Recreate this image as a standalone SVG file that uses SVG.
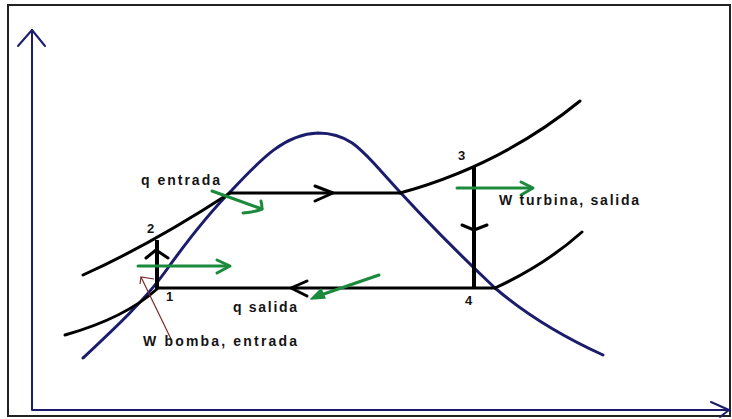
<svg xmlns="http://www.w3.org/2000/svg" width="732" height="419" viewBox="0 0 732 419">
<style>
.lbl{font-family:"Liberation Sans",Arial,sans-serif;font-weight:bold;font-size:14px;fill:#141414}
.num{font-family:"Liberation Sans",Arial,sans-serif;font-weight:bold;font-size:13px;fill:#141414}
.blk{fill:none;stroke:#000;stroke-width:3;stroke-linecap:round;stroke-linejoin:round}
.vert{fill:none;stroke:#000;stroke-width:4}
.navy{fill:none;stroke:#1b1c6c;stroke-width:3;stroke-linecap:round;stroke-linejoin:round}
.axis{fill:none;stroke:#1b1c6c;stroke-width:2;stroke-linecap:round;stroke-linejoin:round}
.grn{fill:none;stroke:#1c8a3c;stroke-width:3;stroke-linecap:round;stroke-linejoin:round}
</style>
<rect width="732" height="419" fill="#fff"/>
<rect x="8" y="5" width="722" height="411" fill="none" stroke="#222" stroke-width="2"/>
<g id="axes">
<polyline class="axis" points="32,30 32,410 729,410"/>
<polyline class="axis" points="18,46 32,30 45,46"/>
<polyline class="axis" points="711,402 729,410 720,417"/>
</g>
<g id="dome">
<path class="navy" d="M83,358 C115,328 145,300 165,272 C185,244 210,212 232,190 C262,158 285,134 318,133 C347,133 360,148 380,170 C420,215 460,255 495,288 C530,318 570,340 603,355"/>
</g>
<g id="connectors">
<path class="blk" d="M83,275 Q150,245 230,193"/>
<path class="blk" d="M65,335 Q125,318 157,289"/>
<path class="blk" d="M400,193 C440,182 510,158 580,101"/>
<path class="blk" d="M495,288 Q545,265 582,232"/>
<line class="blk" x1="230" y1="193" x2="400" y2="193"/>
<line class="blk" x1="157" y1="288" x2="495" y2="288"/>
<line class="vert" x1="157" y1="240" x2="157" y2="289"/>
<line class="vert" x1="474" y1="166" x2="474" y2="289"/>
<polyline class="blk" points="146,258 156,250 168,258"/>
<polyline class="blk" points="462,225 474,230 487,225"/>
<polyline class="blk" points="315,186 333,193 315,201"/>
<polyline class="blk" points="307,281 291,288 307,296"/>
<line class="grn" x1="212" y1="191" x2="262" y2="209"/>
<path class="grn" d="M243,213 Q255,212 262,209 Q262,205 261,201"/>
<line class="grn" x1="138" y1="266" x2="229" y2="266"/>
<polyline class="grn" points="217,260 230,266 217,273"/>
<line class="grn" x1="457" y1="188" x2="532" y2="188"/>
<polyline class="grn" points="521,182 533,188 521,195"/>
<line class="grn" x1="379" y1="275" x2="318" y2="296"/>
<polygon points="311,299 321,289 325,298" fill="#1c8a3c" stroke="#1c8a3c" stroke-width="1.5" stroke-linejoin="round"/>
<line x1="171" y1="339" x2="141" y2="277" stroke="#7a2a2a" stroke-width="1.2"/>
<polyline points="140,284 141,277 154,279" fill="none" stroke="#7a2a2a" stroke-width="1.2"/>
</g>
<g id="labels">
<text class="lbl" x="141" y="185" textLength="79" lengthAdjust="spacing">q entrada</text>
<text class="num" x="147" y="233">2</text>
<text class="num" x="166" y="301">1</text>
<text class="lbl" x="233" y="312" textLength="64" lengthAdjust="spacing">q salida</text>
<text class="lbl" x="143" y="346" textLength="154" lengthAdjust="spacing" fill="#2a1a14">W bomba, entrada</text>
<text class="num" x="458" y="160">3</text>
<text class="lbl" x="499" y="205" textLength="140" lengthAdjust="spacing">W turbina, salida</text>
<text class="num" x="465" y="305">4</text>
</g>
</svg>
